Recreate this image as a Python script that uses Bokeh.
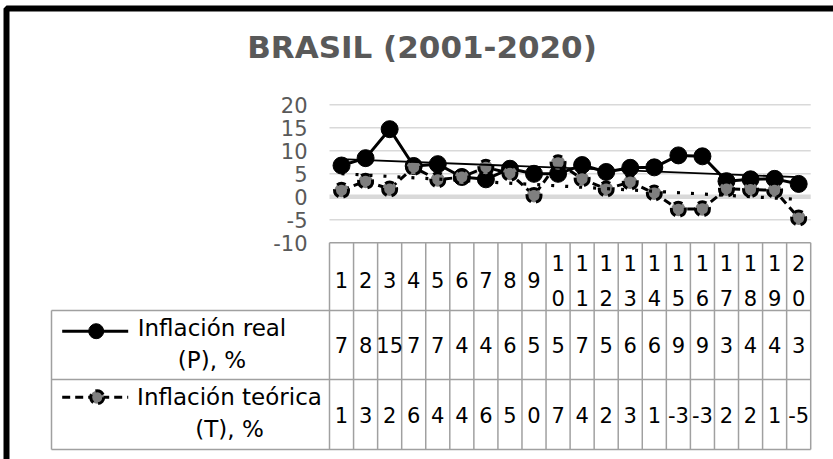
import numpy as np
from bokeh.plotting import figure
from bokeh.models import Range1d
from bokeh.core.properties import value
from bokeh.embed import file_html
from bokeh.resources import INLINE

# ---------------- data ----------------
categories = [str(i) for i in range(1, 21)]
inflacion_real = [6.8, 8.4, 14.7, 6.7, 7.1, 4.3, 3.8, 6.1, 5.0, 5.0,
                  6.9, 5.4, 6.3, 6.4, 9.0, 8.8, 3.4, 3.8, 3.9, 2.8]
inflacion_teorica = [1.4, 3.4, 1.7, 6.4, 3.7, 4.3, 6.4, 5.1, 0.3, 7.4,
                     3.9, 1.7, 3.2, 0.8, -2.7, -2.6, 1.7, 1.6, 1.4, -4.6]
y_ticks = [-10, -5, 0, 5, 10, 15, 20]
series_names = ["Inflación real\n(P), %", "Inflación teórica\n(T), %"]
title_text = "BRASIL (2001-2020)"

# ---------------- layout helpers (pixel -> data) ----------------
W, H = 833, 459
PX0 = 329.0      # left edge of first column
CW = 24.06       # column width in px
Y0PX = 196.3     # pixel row of value 0
PPU = 4.6        # pixels per unit


def xd(px):
    return 0.5 + (px - PX0) / CW


def yd(py):
    return (Y0PX - py) / PPU


FONT = value("DejaVu Sans")
GREY_TXT = "#595959"
GRID = "#d9d9d9"
TABLE = "#a0a0a0"

xs = np.arange(1, len(categories) + 1)
n = len(categories)

p = figure(width=W, height=H, x_range=Range1d(xd(0), xd(W)), y_range=Range1d(yd(H), yd(0)),
           x_axis_type=None, y_axis_type=None, output_backend="svg",
           toolbar_location=None, min_border=0)
p.outline_line_color = None
p.grid.visible = False
p.background_fill_color = "white"

# outer black border (only left/top visible)
p.quad(left=[xd(6)], right=[xd(W + 50)], top=[yd(8)], bottom=[yd(H + 50)],
       fill_color=None, line_color="black", line_width=6)

# gridlines
for t in y_ticks:
    if t == y_ticks[0]:
        continue
    p.segment(x0=[0.5], x1=[n + 0.5], y0=[t], y1=[t], line_color=GRID,
              line_width=4.5 if t == 0 else 1.6)

# y tick labels
p.text(x=[xd(307)] * len(y_ticks), y=y_ticks, text=[str(t) for t in y_ticks],
       text_font=FONT, text_font_size="21px", text_color=GREY_TXT,
       text_align="right", text_baseline="middle")

# title
p.text(x=[xd(421.5)], y=[yd(46)], text=[title_text], text_font=FONT,
       text_font_size="31px", text_font_style="bold", text_color=GREY_TXT,
       text_align="center", text_baseline="middle")

# ---------------- data table ----------------
row1_bot, row2_bot, row3_bot = yd(310), yd(379), yd(449)
leg_left = xd(51)
vx = [0.5 + k for k in range(n + 1)]
p.segment(x0=vx, x1=vx, y0=[y_ticks[0]] * len(vx), y1=[row3_bot] * len(vx),
          line_color=TABLE, line_width=1.5)
p.segment(x0=[0.5, leg_left, leg_left, leg_left], x1=[n + 0.5] * 4,
          y0=[y_ticks[0], row1_bot, row2_bot, row3_bot],
          y1=[y_ticks[0], row1_bot, row2_bot, row3_bot],
          line_color=TABLE, line_width=1.5)
p.segment(x0=[leg_left], x1=[leg_left], y0=[row1_bot], y1=[row3_bot],
          line_color=TABLE, line_width=1.5)

single = [c for c in categories if len(c) == 1]
multi = [c for c in categories if len(c) > 1]
p.text(x=[float(xs[i]) for i, c in enumerate(categories) if len(c) == 1],
       y=[yd(279)] * len(single), text=single, text_font=FONT,
       text_font_size="21px", text_color="black", text_align="center",
       text_baseline="middle")
p.text(x=[float(xs[i]) for i, c in enumerate(categories) if len(c) > 1],
       y=[yd(281)] * len(multi), text=["\n".join(c) for c in multi], text_font=FONT,
       text_font_size="21px", text_color="black", text_align="center",
       text_baseline="middle", text_line_height=1.45)
p.text(x=list(xs), y=[yd(344.5)] * n, text=[f"{v:.0f}" for v in inflacion_real],
       text_font=FONT, text_font_size="21px", text_color="black",
       text_align="center", text_baseline="middle")
p.text(x=list(xs), y=[yd(414)] * n, text=[f"{v:.0f}" for v in inflacion_teorica],
       text_font=FONT, text_font_size="21px", text_color="black",
       text_align="center", text_baseline="middle")

# legend keys in table
p.line(x=[xd(61.7), xd(127.7)], y=[yd(330.7)] * 2, line_color="black", line_width=3)
p.scatter(x=[xd(95.7)], y=[yd(330.7)], size=15, marker="circle",
          fill_color="black", line_color="black")
p.line(x=[xd(61.7), xd(127.7)], y=[yd(396.7)] * 2, line_color="black", line_width=3,
       line_dash="8 5")
p.scatter(x=[xd(96.7)], y=[yd(396.7)], size=13, marker="circle",
          fill_color="#7f7f7f", line_color="black", line_width=3, line_dash="9 5")
p.text(x=[xd(211.5)], y=[yd(343.5)], text=[series_names[0]], text_font=FONT,
       text_font_size="23px", text_color="black", text_align="center",
       text_baseline="middle", text_line_height=1.2)
p.text(x=[xd(229)], y=[yd(412.5)], text=[series_names[1]], text_font=FONT,
       text_font_size="23px", text_color="black", text_align="center",
       text_baseline="middle", text_line_height=1.25)

# ---------------- series ----------------
p.line(x=xs, y=inflacion_real, line_color="black", line_width=3)
p.scatter(x=xs, y=inflacion_real, size=17, marker="circle",
          fill_color="black", line_color="black")
p.line(x=xs, y=inflacion_teorica, line_color="black", line_width=3, line_dash="8 5")
p.scatter(x=xs, y=inflacion_teorica, size=14, marker="circle",
          fill_color="#7f7f7f", line_color="black", line_width=3, line_dash="9 5")

# linear trendlines
tx = np.array([xs[0], xs[-1]], dtype=float)
kp = np.polyfit(xs, inflacion_real, 1)
kt = np.polyfit(xs, inflacion_teorica, 1)
p.line(x=tx, y=np.polyval(kp, tx), line_color="black", line_width=1.8)
p.line(x=tx, y=np.polyval(kt, tx), line_color="black", line_width=3.2,
       line_dash="3 11")

open("out.html", "w").write(file_html(p, INLINE))
